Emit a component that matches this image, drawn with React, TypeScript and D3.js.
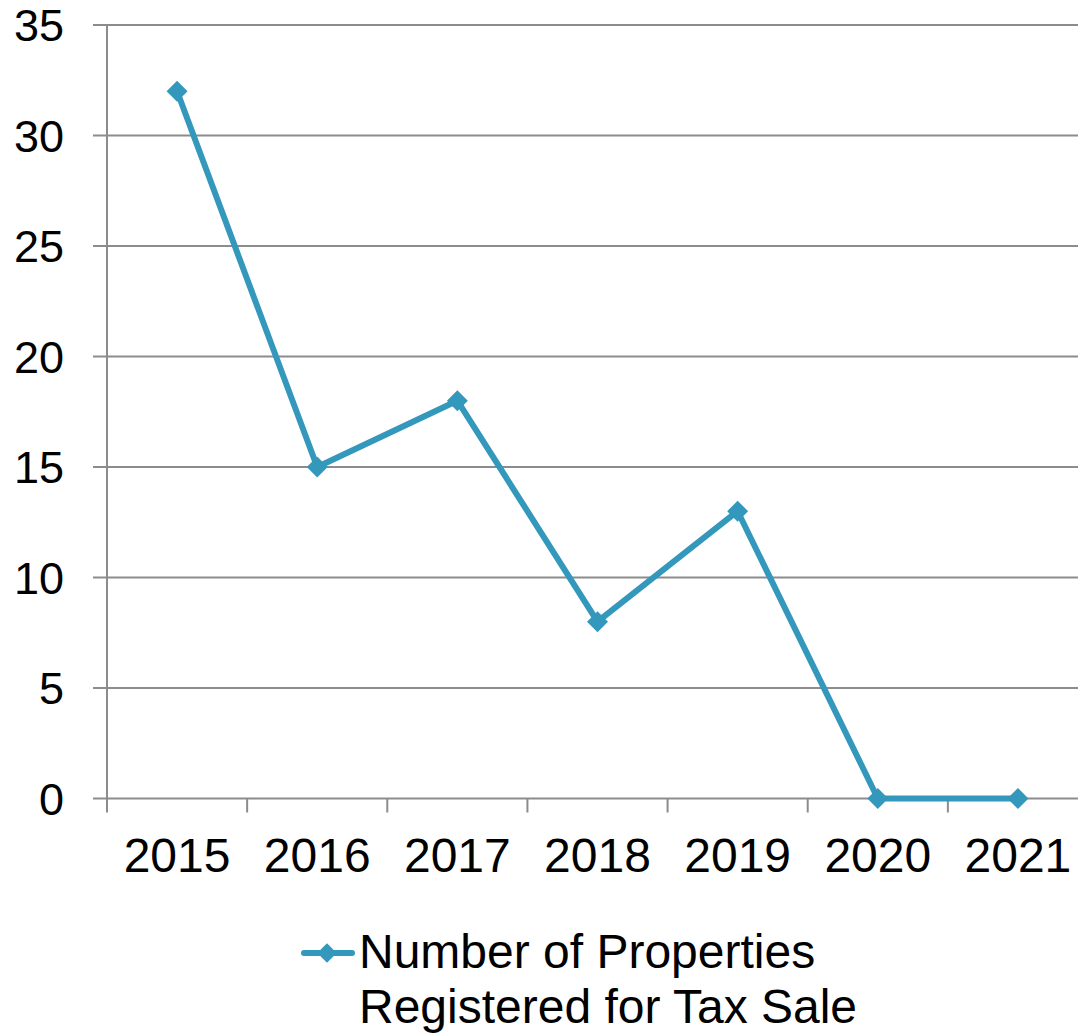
import React, { useEffect, useRef } from "react";
import * as d3 from "d3";

const years = ["2015", "2016", "2017", "2018", "2019", "2020", "2021"];
const counts = [32, 15, 18, 8, 13, 0, 0];
const yTicks = [0, 5, 10, 15, 20, 25, 30, 35];
const legendLines = ["Number of Properties", "Registered for Tax Sale"];

const App = () => {
  const ref = useRef<SVGSVGElement | null>(null);

  useEffect(() => {
    draw();
  });

  const draw = () => {
    const svg = d3.select(ref.current);
    svg.selectAll("*").remove();

    const color = "#3398bb";
    const grid = "#8c8c8c";
    const font = "Liberation Sans, Arial, sans-serif";

    // plot area runs a little past the right edge of the picture
    const x = d3.scaleBand().domain(years).range([107, 1088]);
    const y = d3.scaleLinear().domain([0, 35]).range([798.5, 25]);

    // gridlines
    svg
      .append("g")
      .selectAll("line")
      .data(yTicks)
      .enter()
      .append("line")
      .attr("x1", 93)
      .attr("x2", 1088)
      .attr("y1", (d) => y(d))
      .attr("y2", (d) => y(d))
      .attr("stroke", grid)
      .attr("stroke-width", 2);

    // y axis line
    svg
      .append("line")
      .attr("x1", 107)
      .attr("x2", 107)
      .attr("y1", y(35))
      .attr("y2", y(0) + 14)
      .attr("stroke", grid)
      .attr("stroke-width", 2);

    // x ticks at band boundaries
    svg
      .append("g")
      .selectAll("line")
      .data(years.slice(1))
      .enter()
      .append("line")
      .attr("x1", (d) => x(d)!)
      .attr("x2", (d) => x(d)!)
      .attr("y1", y(0))
      .attr("y2", y(0) + 14)
      .attr("stroke", grid)
      .attr("stroke-width", 2);

    // y labels
    svg
      .append("g")
      .selectAll("text")
      .data(yTicks)
      .enter()
      .append("text")
      .attr("x", 64)
      .attr("y", (d) => y(d) + 16)
      .attr("text-anchor", "end")
      .style("font-family", font)
      .style("font-size", "45px")
      .attr("fill", "#000")
      .text((d) => d);

    // x labels
    svg
      .append("g")
      .selectAll("text")
      .data(years)
      .enter()
      .append("text")
      .attr("x", (d) => x(d)! + x.bandwidth() / 2)
      .attr("y", 872)
      .attr("text-anchor", "middle")
      .style("font-family", font)
      .style("font-size", "48px")
      .attr("fill", "#000")
      .text((d) => d);

    const pts: [number, number][] = years.map((d, i) => [
      x(d)! + x.bandwidth() / 2,
      y(counts[i]),
    ]);

    svg
      .append("path")
      .attr("d", d3.line()(pts))
      .attr("fill", "none")
      .attr("stroke", color)
      .attr("stroke-width", 6)
      .attr("stroke-linejoin", "round");

    const diamond = d3.symbol().type(d3.symbolDiamond2).size(280);
    svg
      .append("g")
      .selectAll("path")
      .data(pts)
      .enter()
      .append("path")
      .attr("d", diamond()!)
      .attr("transform", (d) => `translate(${d[0]},${d[1]})`)
      .attr("fill", color);

    // legend
    const lg = svg.append("g");
    lg.append("line")
      .attr("x1", 304)
      .attr("x2", 352)
      .attr("y1", 953)
      .attr("y2", 953)
      .attr("stroke", color)
      .attr("stroke-width", 6)
      .attr("stroke-linecap", "round");
    lg.append("path")
      .attr("d", d3.symbol().type(d3.symbolDiamond2).size(240)()!)
      .attr("transform", "translate(327,953)")
      .attr("fill", color);
    lg.selectAll("text")
      .data(legendLines)
      .enter()
      .append("text")
      .attr("x", 359)
      .attr("y", (d, i) => 968 + i * 55)
      .style("font-family", font)
      .style("font-size", "48px")
      .attr("fill", "#000")
      .text((d) => d);
  };

  return (
    <svg
      ref={ref}
      width={1078}
      height={1033}
      style={{ position: "absolute", left: 0, top: 0, background: "#fff" }}
    ></svg>
  );
};

export default App;
